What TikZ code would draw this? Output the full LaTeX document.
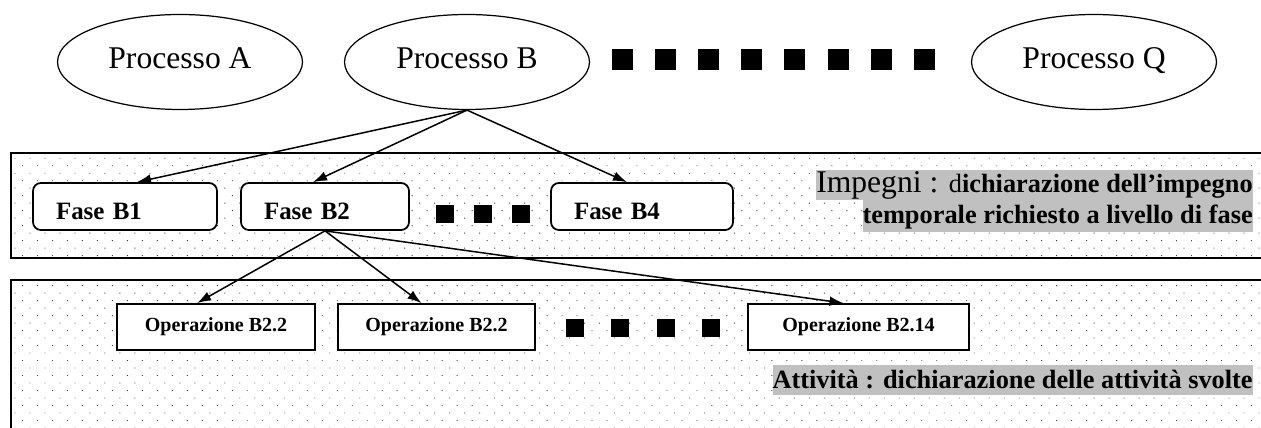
\documentclass[tikz,border=0pt]{standalone}
\usepackage{fontspec}
\setmainfont{Liberation Serif}
\usetikzlibrary{arrows.meta,shapes.geometric,patterns.meta}
\definecolor{colLabel}{HTML}{C0C0C0}
\definecolor{colDots}{HTML}{3C3C3C}
\def\procfont{\fontsize{18pt}{21pt}\selectfont}
\def\fasefont{\bfseries\fontsize{14.2pt}{17pt}\selectfont}
\def\opfont{\bfseries\fontsize{11.4pt}{13.5pt}\selectfont}
\def\impfont{\fontsize{18pt}{21pt}\selectfont}
\def\descsize{\fontsize{15pt}{18pt}\selectfont}
\def\descfont{\bfseries\fontsize{15pt}{18pt}\selectfont}
% row of black squares: count, first centre x, step, centre y, size
\newcommand{\sqrow}[5]{%
  \foreach \k in {1,...,#1}
    \fill ({#2+(\k-1)*#3-#5/2},{#4-#5/2}) rectangle ++(#5,#5);}
\tikzset{
  proc/.style={ellipse, draw, line width=0.7pt, fill=white, minimum width=4.9cm,
    minimum height=1.9cm, inner sep=0pt, text height=0.42cm, text depth=0.14cm,
    font=\procfont},
  fase/.style={draw, line width=1pt, rounded corners=4.5pt, fill=white, minimum height=0.94cm,
    inner xsep=0.46cm, inner ysep=0pt, text height=0.52cm, text depth=0cm,
    align=left, font=\fasefont},
  oper/.style={draw, line width=1pt, fill=white, minimum height=0.92cm, inner sep=0pt, font=\opfont},
  band/.style={line width=1.1pt, pattern={Dots[radius=0.35pt, distance=0.212cm, angle=45]},
    pattern color=colDots},
  link/.style={line width=0.85pt, -{Latex[length=8pt, width=5.5pt]}},
  tag/.style={fill=colLabel, inner sep=0pt, anchor=base east}
}

\begin{document}
\begin{tikzpicture}[x=0.02cm, y=-0.02cm]
\useasboundingbox (0,0) rectangle (1261,428);
\fill[white] (0,0) rectangle (1261,428);
\clip (0,0) rectangle (1261,428);

% ===================== BANDS =====================
\draw[band] (11,153) rectangle (1275,258);
\draw[band] (11,280) rectangle (1275,431);

% ===================== PROCESSI =====================
\node[proc] (pA) at (180,62) {Processo A};
\node[proc] (pB) at (467,62) {Processo B};
\node[proc] (pQ) at (1094,62) {Processo Q};
\sqrow{8}{622.5}{43.1}{60}{21}

% ===================== FASI =====================
\node[fase, text width=2.76cm] (fB1) at (125,206.5) {Fase B1};
\node[fase, text width=2.44cm] (fB2) at (325,206.5) {Fase B2};
\node[fase, text width=2.72cm] (fB4) at (642,206.5) {Fase B4};
\sqrow{3}{445}{38}{214}{18}

\node[tag, text height=0.46cm, text depth=0.14cm] (impL1) at (1253,193)
  {\impfont Impegni : {\descsize d}{\descfont ichiarazione dell’impegno}};
\node[tag, text height=0.48cm, text depth=0.16cm] (impL2) at (1253,224)
  {\descfont temporale richiesto a livello di fase};

% ===================== OPERAZIONI =====================
\node[oper, minimum width=3.96cm] (opA) at (216,327) {Operazione B2.2};
\node[oper, minimum width=3.94cm] (opB) at (436.5,327) {Operazione B2.2};
\node[oper, minimum width=4.42cm] (opN) at (858.5,327) {Operazione B2.14};
\sqrow{4}{574.5}{45.5}{328}{18}

\node[tag, text height=0.48cm, text depth=0.12cm] (attL) at (1253,389)
  {\descfont Attività : dichiarazione delle attività svolte};

% ===================== LINKS =====================
\draw[link] (pB.south) -- ([xshift=0.24cm]fB1.north);
\draw[link] (pB.south) -- ([xshift=-0.24cm]fB2.north);
\draw[link] (pB.south) -- ([xshift=-0.3cm]fB4.north);
\draw[link] (fB2.south) -- ([xshift=-0.38cm]opA.north);
\draw[link] (fB2.south) -- ([xshift=-0.3cm]opB.north);
\draw[link] (fB2.south) -- ([xshift=-0.3cm]opN.north);
\end{tikzpicture}
\end{document}
